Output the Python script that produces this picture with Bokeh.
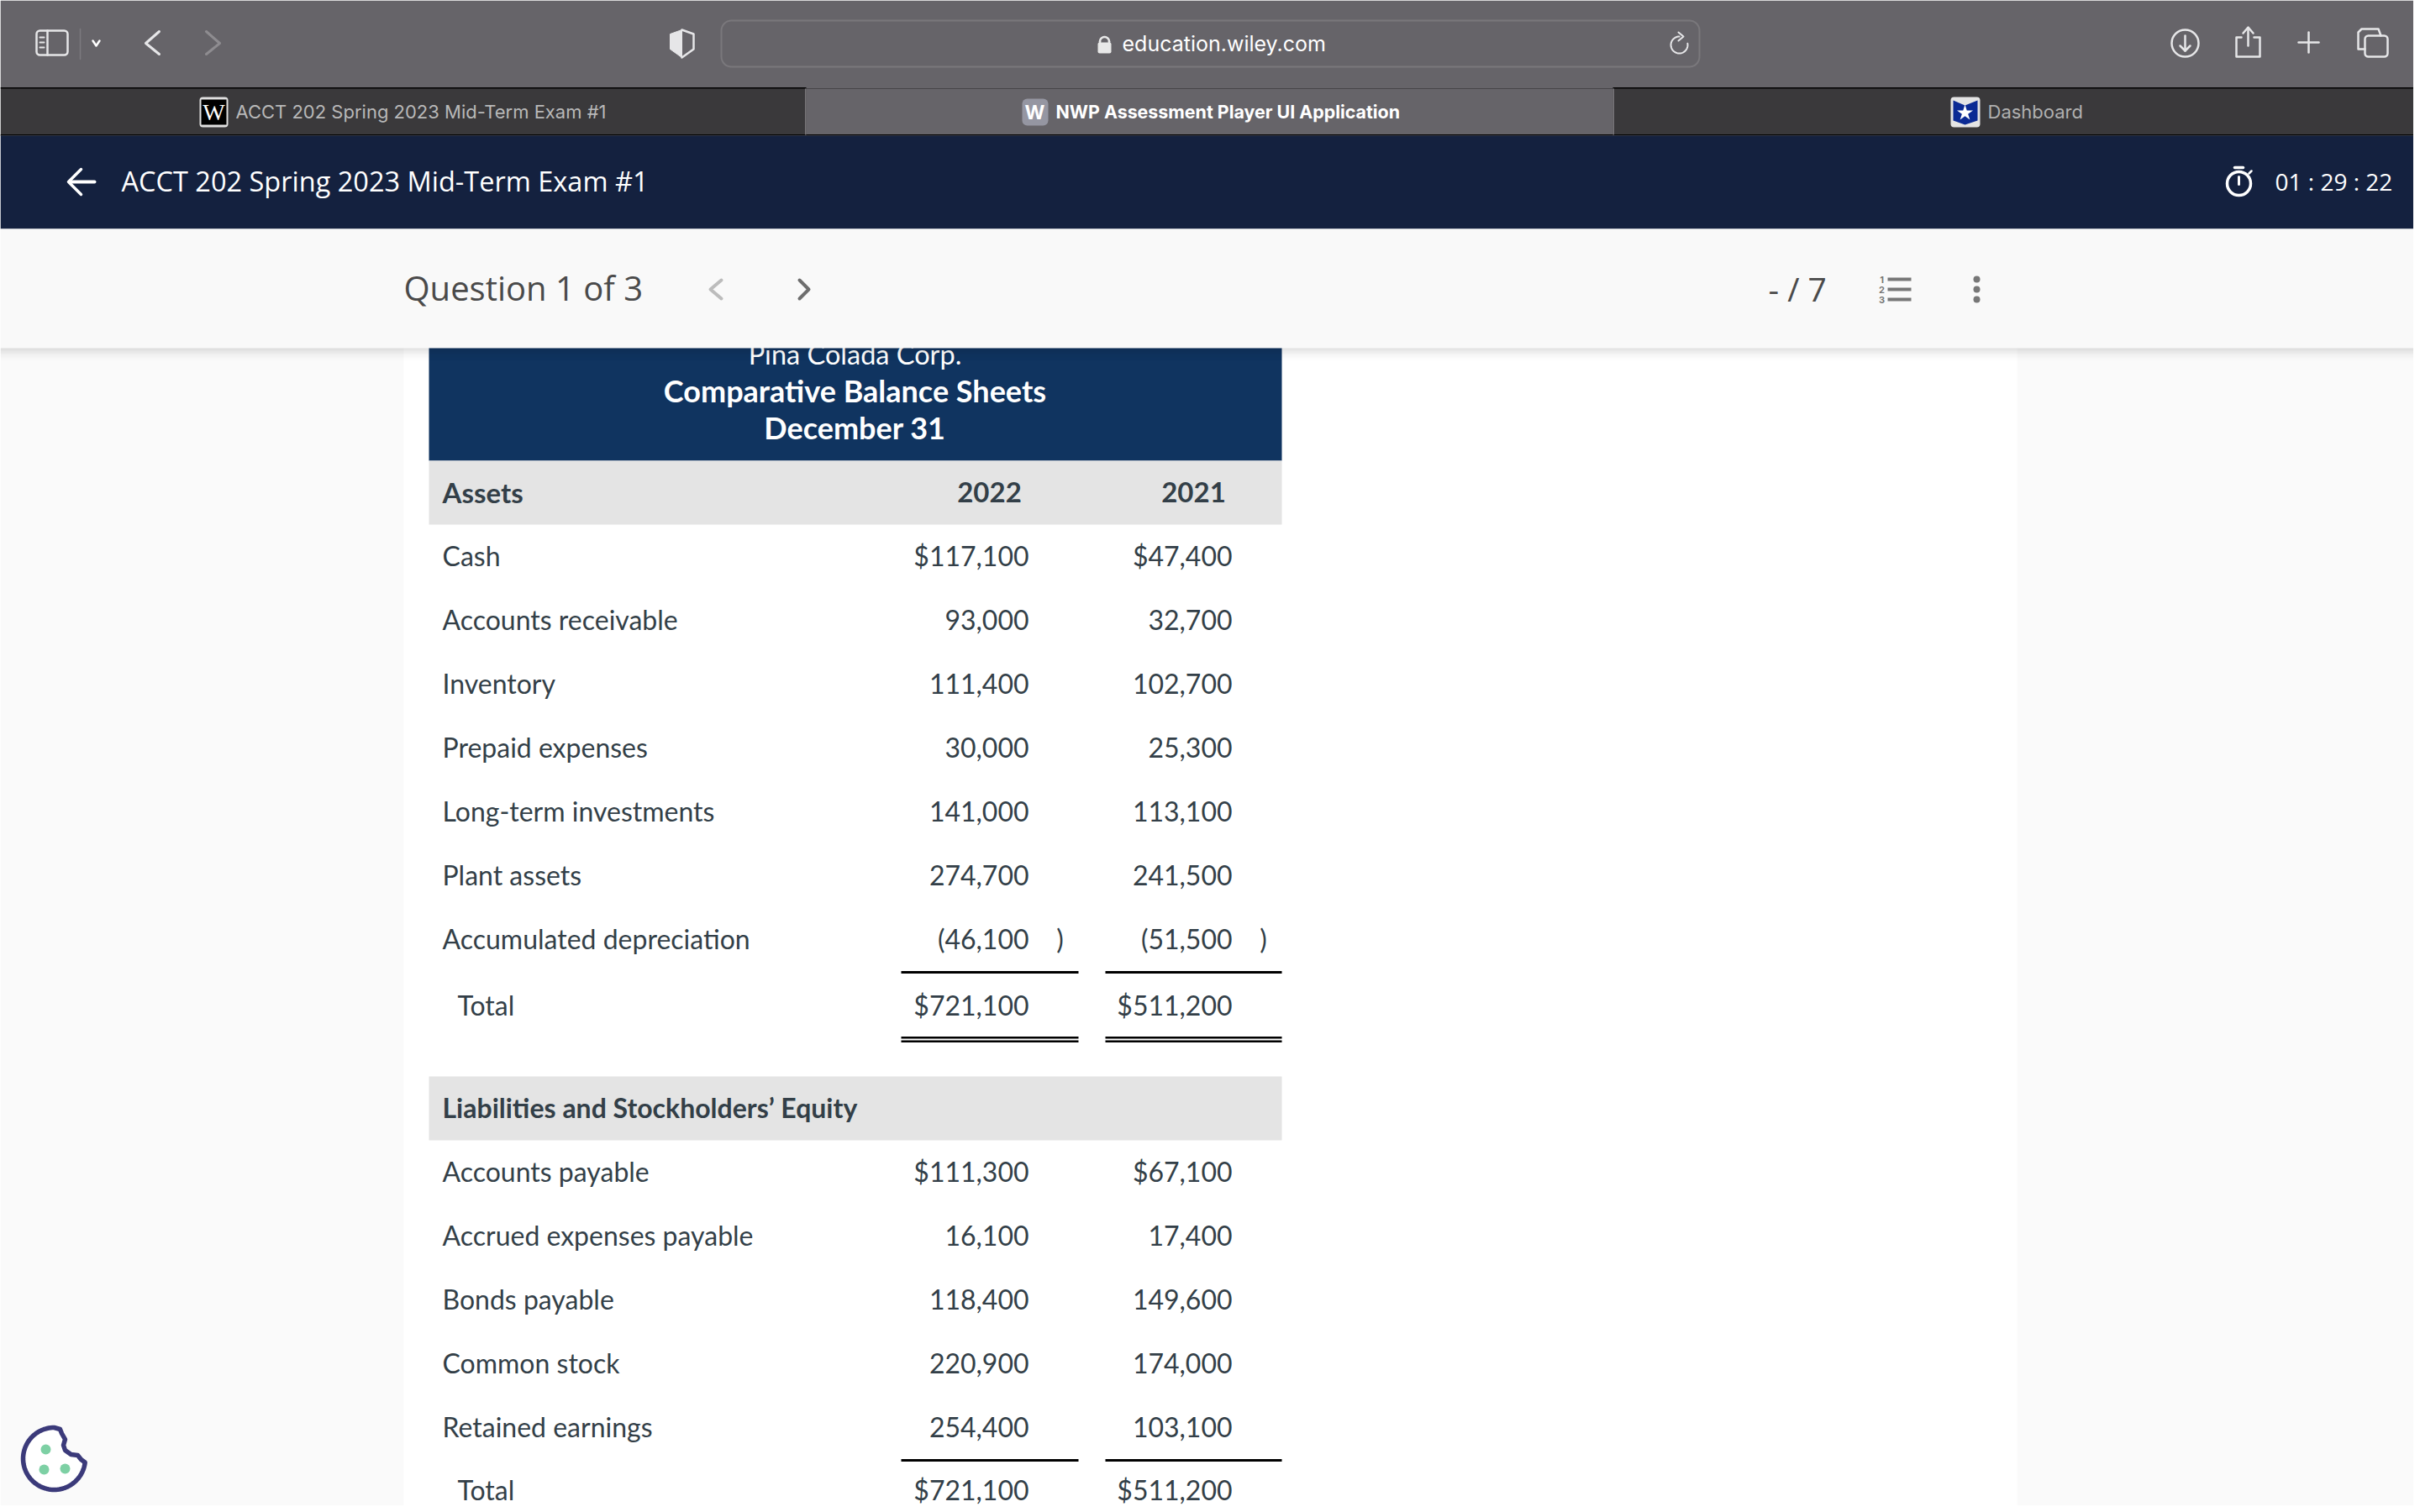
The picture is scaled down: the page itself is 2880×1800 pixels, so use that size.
import numpy as np
from bokeh.core.properties import value
from bokeh.embed import file_html
from bokeh.models import Range1d
from bokeh.plotting import figure
from bokeh.resources import INLINE

asset_labels = ["Cash", "Accounts receivable", "Inventory", "Prepaid expenses",
                "Long-term investments", "Plant assets", "Accumulated depreciation"]
asset_2022 = [117100, 93000, 111400, 30000, 141000, 274700, -46100]
asset_2021 = [47400, 32700, 102700, 25300, 113100, 241500, -51500]
asset_total = [721100, 511200]

liab_labels = ["Accounts payable", "Accrued expenses payable", "Bonds payable",
               "Common stock", "Retained earnings"]
liab_2022 = [111300, 16100, 118400, 220900, 254400]
liab_2021 = [67100, 17400, 149600, 174000, 103100]
liab_total = [721100, 511200]

years = ["2022", "2021"]
title_lines = ["Pina Colada Corp.", "Comparative Balance Sheets", "December 31"]

LATO = "Lato"
OPEN = "Open Sans"
UI = "Inter"
INK = "#333f48"
NAVY = "#14213f"
BODY = 32
COL_L = [1072, 1315]
COL_R = [1283, 1525]
COL_NUM = [1224, 1466]
COL_PAREN = [1261, 1503]
COL_HEAD = [1177, 1420]


def money(v, dollar=False):
    if v < 0:
        return f"({-v:,}"
    return ("$" if dollar else "") + f"{v:,}"


def label(p, x, y, s, size, color=INK, font=LATO, align="left", style="normal"):
    p.text([x], [y - 2], text=[s], text_font=value(font), text_font_size=f"{size}px",
           text_color=color, text_align=align, text_baseline="middle",
           text_font_style=style)


def box(p, l, r, t, b, color, **kw):
    p.quad(left=[l], right=[r], top=[t], bottom=[b], fill_color=color, line_color=None, **kw)


def outline(p, l, r, t, b, color, radius=0, width=2.5):
    p.quad(left=[l], right=[r], top=[t], bottom=[b], fill_color=None, line_color=color,
           line_width=width, border_radius=radius)


def stroke(p, xs, ys, color, width=2.5):
    p.line(xs, ys, line_color=color, line_width=width, line_cap="round", line_join="round")


def curve(p, cx, cy, r, start, end, color, width=2.5):
    t = np.radians(np.linspace(start, end, 40))
    stroke(p, cx + r * np.cos(t), cy + r * np.sin(t), color, width)


def table(p):
    box(p, 0, 2880, 0, 1800, "#fafafa")
    box(p, 480, 2400, 0, 1800, "#ffffff")

    box(p, 510, 1525, 400, 548, "#103460")
    label(p, 1017, 423, title_lines[0], 32.5, "#ffffff", align="center")
    label(p, 1017, 466.5, title_lines[1], 36, "#ffffff", align="center", style="bold")
    label(p, 1017, 510.5, title_lines[2], 36, "#ffffff", align="center", style="bold")

    box(p, 510, 1525, 548, 624, "#e4e4e4")
    label(p, 526, 587, "Assets", 33, style="bold")
    for i in range(2):
        label(p, COL_HEAD[i], 587, years[i], 33, align="center", style="bold")

    for n, name in enumerate(asset_labels):
        y = 663 + 76 * n
        label(p, 526, y, name, BODY)
        for i, col in enumerate([asset_2022, asset_2021]):
            label(p, COL_NUM[i], y, money(col[n], n == 0), BODY, align="right")
            if col[n] < 0:
                label(p, COL_PAREN[i], y, ")", BODY, align="center")

    label(p, 544, 1198, "Total", BODY)
    for i in range(2):
        label(p, COL_NUM[i], 1198, money(asset_total[i], True), BODY, align="right")
        box(p, COL_L[i], COL_R[i], 1155.5, 1158.5, "#000000")
        box(p, COL_L[i], COL_R[i], 1233.5, 1236, "#000000")
        box(p, COL_L[i], COL_R[i], 1238, 1240.5, "#000000")

    box(p, 510, 1525, 1281, 1357, "#e4e4e4")
    label(p, 526, 1320, "Liabilities and Stockholders’ Equity", 32, style="bold")

    for n, name in enumerate(liab_labels):
        y = 1396 + 76 * n
        label(p, 526, y, name, BODY)
        for i, col in enumerate([liab_2022, liab_2021]):
            label(p, COL_NUM[i], y, money(col[n], n == 0), BODY, align="right")

    label(p, 544, 1775, "Total", BODY)
    for i in range(2):
        label(p, COL_NUM[i], 1775, money(liab_total[i], True), BODY, align="right")
        box(p, COL_L[i], COL_R[i], 1736.5, 1739.5, "#000000")


def cookie(p):
    t = np.radians(np.linspace(270, 7, 80))
    xs = list(64 + 37 * np.cos(t))
    ys = list(1736 + 37 * np.sin(t))
    xs += [96, 92, 84, 77, 75, 77, 73, 71]
    ys += [1737, 1732, 1731, 1726, 1720, 1713, 1706, 1701]
    p.patch(xs, ys, fill_color="#ffffff", line_color="#3b3a7a", line_width=5.5, line_join="round")
    p.circle([54, 52, 77], [1725, 1749, 1748], radius=6, fill_color="#7dd0a4", line_color=None)


def chrome(p):
    # browser toolbar
    box(p, 0, 2880, 0, 104, "#666469")
    box(p, 0, 2880, 104, 161, "#3a393b")
    box(p, 959, 1919, 105, 160, "#666469")
    box(p, 0, 2880, 103.5, 105, "#000000")
    box(p, 959, 1919, 103.5, 105, "#666469")
    box(p, 0, 2880, 159.5, 161, "#000000")
    box(p, 957.5, 959, 105, 160, "#777579")
    box(p, 1919, 1920.5, 105, 160, "#777579")

    outline(p, 43, 80, 36, 65, "#e6e6e8", 4)
    stroke(p, [56, 56], [36, 65], "#e6e6e8")
    for y in [44, 50, 56]:
        stroke(p, [47, 52], [y, y], "#e6e6e8", 2)
    stroke(p, [95, 95], [34, 70], "#7c7a7f", 1.5)
    stroke(p, [110, 114, 118], [48, 54, 48], "#ffffff", 2.5)
    stroke(p, [189, 173, 189], [37, 51, 64], "#e6e6e8", 3)
    stroke(p, [245, 261, 245], [37, 51, 64], "#8e8c90", 3)

    p.patch([811, 797, 797, 811], [35, 40, 58, 68], fill_color="#e6e6e8", line_color="#e6e6e8")
    stroke(p, [811, 825, 825, 811], [35, 40, 58, 68], "#e6e6e8", 2.5)

    outline(p, 858, 2022, 24, 79, "#7a787c", 12, 2)
    box(p, 1306, 1322, 50, 63, "#e8e8e8", border_radius=2)
    curve(p, 1314, 49, 5.5, 180, 360, "#e8e8e8", 2.5)
    stroke(p, [1308.5, 1308.5], [49, 52], "#e8e8e8")
    stroke(p, [1319.5, 1319.5], [49, 52], "#e8e8e8")
    label(p, 1335, 53, "education.wiley.com", 25, "#ffffff", UI)
    curve(p, 1998, 53, 10, -90, -370, "#e6e6e8", 2)
    stroke(p, [1997, 2003, 1997], [38, 43, 48], "#e6e6e8", 2)

    p.circle([2600], [51], radius=16, fill_color=None, line_color="#e6e6e8", line_width=2.5)
    stroke(p, [2600, 2600], [42, 60], "#e6e6e8")
    stroke(p, [2594, 2600, 2606], [54, 60, 54], "#e6e6e8")
    stroke(p, [2667, 2661, 2661, 2689, 2689, 2682], [44, 44, 67, 67, 44, 44], "#e6e6e8")
    stroke(p, [2675, 2675], [33, 54], "#e6e6e8")
    stroke(p, [2669, 2675, 2681], [39, 32, 39], "#e6e6e8")
    stroke(p, [2735, 2759], [50, 50], "#e6e6e8")
    stroke(p, [2747, 2747], [38, 62], "#e6e6e8")
    outline(p, 2814, 2841, 42, 67, "#e6e6e8", 4)
    stroke(p, [2814, 2806, 2806, 2810, 2830, 2833], [58, 58, 38, 34, 34, 42], "#e6e6e8")

    # tabs
    box(p, 237, 271, 115, 151, "#e0e0e0", border_radius=4)
    box(p, 239, 269, 118, 148, "#000000")
    label(p, 254, 135, "W", 28, "#ffffff", "Liberation Serif", "center")
    label(p, 280, 134, "ACCT 202 Spring 2023 Mid-Term Exam #1", 22, "#b8b8b8", UI)
    box(p, 1216, 1247, 117, 149, "#9596a2", border_radius=6)
    label(p, 1231, 135, "W", 23, "#ffffff", UI, "center", "bold")
    label(p, 1256, 134, "NWP Assessment Player UI Application", 21.4, "#ffffff", UI, style="bold")
    box(p, 2321, 2356, 115, 151, "#e4e4e4", border_radius=4)
    p.patch([2324, 2338, 2353, 2353, 2338, 2324], [119, 125, 119, 143, 148, 143],
            fill_color="#0b2a94", line_color=None)
    p.scatter([2338], [134], marker="star", size=20, fill_color="#ffffff", line_color=None)
    label(p, 2365, 134, "Dashboard", 22, "#b0b0b0", UI)

    # exam header
    box(p, 0, 2880, 161, 272, NAVY)
    stroke(p, [84, 112], [216, 216], "#ffffff", 4)
    stroke(p, [96, 81, 96], [201, 216, 231], "#ffffff", 3.5)
    label(p, 144, 217, "ACCT 202 Spring 2023 Mid-Term Exam #1", 32.5, "#ffffff", OPEN)
    p.circle([2664], [218], radius=14, fill_color=None, line_color="#ffffff", line_width=3.5)
    stroke(p, [2664, 2664], [210, 219], "#ffffff", 3)
    stroke(p, [2659, 2669], [199, 199], "#ffffff", 3.5)
    stroke(p, [2676, 2679], [206, 203], "#ffffff", 2.5)
    label(p, 2707, 217, "01 : 29 : 22", 28, "#ffffff", OPEN)

    # question bar
    box(p, 0, 2880, 272, 414, "#f9f9f9")
    label(p, 480, 344, "Question 1 of 3", 40, "#4a4a4a", OPEN)
    stroke(p, [858, 845, 858], [333, 344, 355], "#bcbcbc", 4)
    stroke(p, [951, 962, 951], [333, 344, 355], "#6e6e6e", 4)
    label(p, 2104, 345, "- / 7", 39, "#4a4a4a", OPEN)
    for n, y in enumerate([332, 344, 356]):
        box(p, 2246, 2274, y - 2, y + 2, "#777777")
        label(p, 2239, y + 2, str(n + 1), 11, "#777777", UI, "center", "bold")
    p.circle([2352] * 3, [332, 344, 356], radius=4, fill_color="#777777", line_color=None)
    for i in range(18):
        box(p, 0, 2880, 414 + i, 415 + i, "#000000", fill_alpha=0.12 * (1 - i / 18) ** 2)


p = figure(width=2872, height=1792, output_backend="svg", toolbar_location=None,
           x_range=Range1d(0, 2872), y_range=Range1d(1792, 0), min_border=0,
           outline_line_color=None)
p.axis.visible = False
p.grid.visible = False

table(p)
chrome(p)
cookie(p)

open("out.html", "w").write(file_html(p, INLINE))
